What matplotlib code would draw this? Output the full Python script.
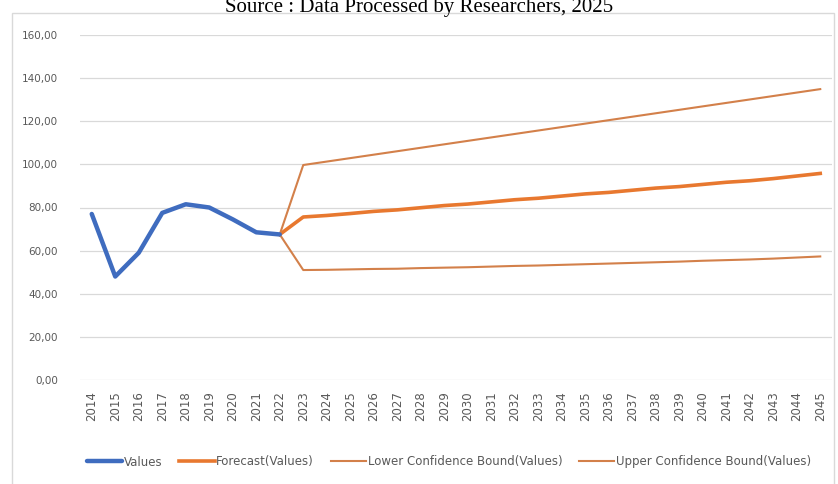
import numpy as np
import matplotlib.pyplot as plt
from matplotlib.patches import Rectangle

# Data
years = [str(y) for y in range(2014, 2046)]
values = [77.0, 48.0, 59.0, 77.5, 81.5, 80.0, 74.5, 68.5, 67.5]
forecast = [67.5, 75.6, 76.3, 77.2, 78.2, 78.9, 79.9, 80.9, 81.6, 82.6, 83.6, 84.3,
            85.3, 86.3, 87.0, 88.0, 89.0, 89.7, 90.7, 91.7, 92.4, 93.4, 94.6, 95.8]
lower = [67.5, 51.0, 51.1, 51.3, 51.5, 51.6, 51.9, 52.1, 52.3, 52.6, 52.9, 53.1,
         53.4, 53.7, 54.0, 54.3, 54.6, 54.9, 55.3, 55.6, 55.9, 56.3, 56.8, 57.3]
upper = [67.5, 99.7, 101.3, 102.9, 104.5, 106.1, 107.7, 109.3, 110.9, 112.5, 114.1, 115.7,
         117.3, 118.9, 120.5, 122.1, 123.7, 125.3, 126.9, 128.5, 130.1, 131.7, 133.3, 134.9]

x_all = np.arange(len(years))
x_val = x_all[:len(values)]
x_fc = x_all[len(values) - 1:]

fig = plt.figure(figsize=(8.38, 4.84), dpi=100)
ax = fig.add_axes([80 / 838, 1 - 380 / 484, 752 / 838, 345 / 484])

# Chart frame
fig.patches.append(Rectangle((12 / 838, -0.01), 822 / 838, 1 - 13 / 484 + 0.01,
                             transform=fig.transFigure, fill=False,
                             edgecolor="#d9d9d9", linewidth=1))

fig.text(0.5, 1 - 12 / 484, "Source : Data Processed by Researchers, 2025",
         ha="center", va="baseline", fontsize=15, family="Liberation Serif")

blue = "#3f6cbf"
orange = "#e8782f"
bound = "#d3804a"

ax.plot(x_val, values, color=blue, linewidth=3.2, solid_capstyle="round",
        label="Values", zorder=4)
ax.plot(x_fc, forecast, color=orange, linewidth=2.6, label="Forecast(Values)", zorder=3)
ax.plot(x_fc, lower, color=bound, linewidth=1.5,
        label="Lower Confidence Bound(Values)", zorder=3)
ax.plot(x_fc, upper, color=bound, linewidth=1.5,
        label="Upper Confidence Bound(Values)", zorder=3)

ax.set_xlim(-0.5, len(years) - 0.5)
ax.set_ylim(0, 160)
ax.set_yticks(np.arange(0, 161, 20))
ax.set_yticklabels([f"{v:.2f}".replace(".", ",") for v in range(0, 161, 20)])
ax.set_xticks(x_all)
ax.set_xticklabels(years, rotation=90)

ax.grid(axis="y", color="#d9d9d9", linewidth=0.9)
ax.set_axisbelow(True)
for s in ax.spines.values():
    s.set_visible(False)
ax.tick_params(axis="both", length=0, labelcolor="#595959")
ax.tick_params(axis="y", pad=16, labelsize=7.5)
ax.tick_params(axis="x", pad=8, labelsize=8.5)

ax.legend(loc="center", bbox_to_anchor=(449 / 838, 1 - 462 / 484),
          bbox_transform=fig.transFigure, ncol=4, frameon=False,
          fontsize=8.5, labelcolor="#595959", handlelength=3.0,
          handletextpad=0.15, columnspacing=1.4)

fig.savefig("out.png", dpi=100)
